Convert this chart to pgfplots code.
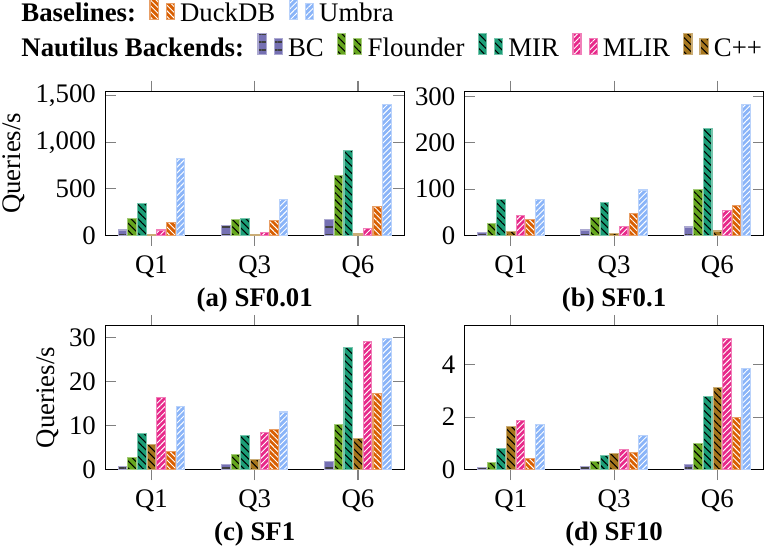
\documentclass[border=0pt]{standalone}
\usepackage{pgfplots}
\pgfplotsset{compat=1.18}
\usepackage{pgfplotstable}
\usepackage{fontspec}
\setmainfont{Liberation Serif}
\usetikzlibrary{patterns.meta}

\definecolor{cBC}{HTML}{7570B3}
\definecolor{cFl}{HTML}{66A61E}
\definecolor{cMIR}{HTML}{1B9E77}
\definecolor{cCPP}{HTML}{A6761D}
\definecolor{cMLIR}{HTML}{E7298A}
\definecolor{cDuck}{HTML}{D95F02}
\definecolor{cUmbra}{HTML}{8AB4F8}

% queries per second, x: 0=Q1 1=Q3 2=Q6
\pgfplotstableread{
x BC Flounder MIR CPP MLIR DuckDB Umbra
0 57 185 345 10 57 135 826
1 107 174 185 8 25 157 388
2 174 644 915 14 68 313 1405
}\sfa
\pgfplotstableread{
x BC Flounder MIR CPP MLIR DuckDB Umbra
0 5.7 25 77 8.6 43.6 35 78
1 11.4 38.6 70.7 3 19 48 98
2 17.9 99 230 9.3 54 64 283
}\sfb
\pgfplotstableread{
x BC Flounder MIR CPP MLIR DuckDB Umbra
0 0.6 2.7 8.3 5.7 16.3 4.05 14.25
1 1.2 3.45 7.7 2.3 8.4 9.2 13.1
2 1.9 10.35 27.7 7.05 29.25 17.3 29.8
}\sfc
\pgfplotstableread{
x BC Flounder MIR CPP MLIR DuckDB Umbra
0 0.075 0.26 0.8 1.64 1.86 0.42 1.71
1 0.11 0.30 0.54 0.62 0.78 0.65 1.30
2 0.2 0.99 2.8 3.14 4.99 1.97 3.86
}\sfd

\pgfplotsset{
  bc/.style={fill=cBC, draw=cBC!60!white,
    postaction={pattern={Lines[angle=0,distance=3pt,line width=0.7pt]}, pattern color=black!75}},
  flounder/.style={fill=cFl, draw=cFl!60!white,
    postaction={pattern={Lines[angle=-45,distance=1.9pt,line width=0.4pt]}, pattern color=black}},
  mir/.style={fill=cMIR, draw=cMIR!60!white,
    postaction={pattern={Lines[angle=-45,distance=1.9pt,line width=0.4pt]}, pattern color=black}},
  cpp/.style={fill=cCPP, draw=cCPP!60!white,
    postaction={pattern={Lines[angle=-45,distance=1.9pt,line width=0.4pt]}, pattern color=black}},
  mlir/.style={fill=cMLIR, draw=cMLIR!60!white,
    postaction={pattern={Lines[angle=45,distance=1.5pt,line width=0.35pt]}, pattern color=white}},
  duck/.style={fill=cDuck, draw=cDuck!60!white,
    postaction={pattern={Lines[angle=-45,distance=1.5pt,line width=0.35pt]}, pattern color=white}},
  umbra/.style={fill=cUmbra, draw=cUmbra!60!white,
    postaction={pattern={Lines[angle=45,distance=1.5pt,line width=0.35pt]}, pattern color=white}},
  geom/.style={scale only axis, width=111.5pt, height=53.7pt},
  qaxis/.style={geom,
    ybar=0.4pt, bar width=3.2pt,
    xmin=-0.447, xmax=2.447, xtick={0,1,2}, xticklabels={Q1,Q3,Q6},
    ymin=0, enlarge y limits=upper,
    xtick align=outside, ytick align=inside,
    major tick length=4pt,
    major tick style={draw=gray, line width=0.4pt},
    xlabel style={yshift=3pt},
    ylabel shift=-3pt,
    /pgf/number format/assume math mode=true,
  },
}

\newcommand\drawbars[1]{%
  \addplot[bc] table[x=x,y=BC]{#1};
  \addplot[flounder] table[x=x,y=Flounder]{#1};
  \addplot[mir] table[x=x,y=MIR]{#1};
  \addplot[cpp] table[x=x,y=CPP]{#1};
  \addplot[mlir] table[x=x,y=MLIR]{#1};
  \addplot[duck] table[x=x,y=DuckDB]{#1};
  \addplot[umbra] table[x=x,y=Umbra]{#1};
}

\begin{document}
\begin{tikzpicture}
\begin{axis}[qaxis, at={(0pt,0pt)}, anchor=south west,
  ytick={0,500,1000,1500}, ylabel={Queries/s},
  xlabel={\textbf{(a) SF0.01}}]
\drawbars{\sfa}
\end{axis}
\begin{axis}[qaxis, at={(134.1pt,0pt)}, anchor=south west,
  ytick={0,100,200,300},
  xlabel={\textbf{(b) SF0.1}}]
\drawbars{\sfb}
\end{axis}
\begin{axis}[qaxis, at={(0pt,-87.4pt)}, anchor=south west,
  ytick={0,10,20,30}, ylabel={Queries/s},
  xlabel={\textbf{(c) SF1}}]
\drawbars{\sfc}
\end{axis}
\begin{axis}[qaxis, at={(134.1pt,-87.4pt)}, anchor=south west,
  ytick={0,2,4},
  xlabel={\textbf{(d) SF10}}]
\drawbars{\sfd}
\end{axis}

% legends
\begin{axis}[geom, at={(0pt,0pt)}, anchor=south west, hide axis,
  xmin=0, xmax=1, ymin=0, ymax=1,
  legend columns=-1,
  legend style={draw=none, fill=none, inner sep=0pt, at={(0,1)}, anchor=west,
    xshift=-33.5pt, yshift=28.9pt,
    /tikz/every even column/.append style={column sep=3pt}}]
\addlegendimage{empty legend}\addlegendentry{\textbf{Baselines:}}
\addlegendimage{ybar, ybar legend, duck}\addlegendentry{DuckDB}
\addlegendimage{ybar, ybar legend, umbra}\addlegendentry{Umbra}
\end{axis}
\begin{axis}[geom, at={(0pt,0pt)}, anchor=south west, hide axis,
  xmin=0, xmax=1, ymin=0, ymax=1,
  legend columns=-1,
  legend style={draw=none, fill=none, inner sep=0pt, at={(0,1)}, anchor=west,
    xshift=-33.5pt, yshift=15.6pt,
    /tikz/every even column/.append style={column sep=3pt}}]
\addlegendimage{empty legend}\addlegendentry{\textbf{Nautilus Backends:}}
\addlegendimage{ybar, ybar legend, bc}\addlegendentry{BC}
\addlegendimage{ybar, ybar legend, flounder}\addlegendentry{Flounder}
\addlegendimage{ybar, ybar legend, mir}\addlegendentry{MIR}
\addlegendimage{ybar, ybar legend, mlir}\addlegendentry{MLIR}
\addlegendimage{ybar, ybar legend, cpp}\addlegendentry{C++}
\end{axis}
\pgfresetboundingbox
\useasboundingbox (-39.3pt,-117pt) rectangle (245.8pt,87.8pt);
\end{tikzpicture}
\end{document}
